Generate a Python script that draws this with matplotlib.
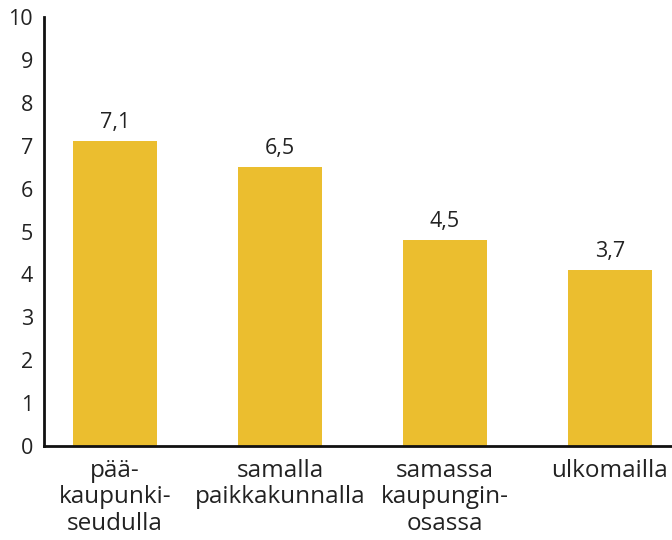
import matplotlib.pyplot as plt
import numpy as np

# data
categories = ['pää-\nkaupunki-\nseudulla', 'samalla\npaikkakunnalla',
              'samassa\nkaupungin-\nosassa', 'ulkomailla']
values = [7.1, 6.5, 4.8, 4.1]
value_labels = ['7,1', '6,5', '4,5', '3,7']

plt.rcParams['font.family'] = ['Open Sans', 'DejaVu Sans']

fig = plt.figure(figsize=(6.72, 5.4), dpi=100)
ax = fig.add_axes([0.0655, 0.174, 0.9345, 0.7945])

x = np.arange(len(categories))
bars = ax.bar(x, values, width=0.51, color='#ebbe2f')

for b, lab in zip(bars, value_labels):
    ax.text(b.get_x() + b.get_width() / 2, b.get_height() + 0.2, lab,
            ha='center', va='bottom', fontsize=15.5, color='#222222')

ax.set_xlim(-0.43, 3.376)
ax.set_ylim(0, 10)
ax.set_yticks(range(0, 11))
ax.set_xticks(x)
ax.set_xticklabels(categories, fontsize=17.5, linespacing=1.14, color='#222222')
ax.tick_params(axis='both', length=0, colors='#222222')
ax.tick_params(axis='y', pad=8, labelsize=15.5)
ax.tick_params(axis='x', pad=9)

for s in ['top', 'right']:
    ax.spines[s].set_visible(False)
for s in ['left', 'bottom']:
    ax.spines[s].set_linewidth(2)
    ax.spines[s].set_color('#111111')

plt.savefig('out.png', dpi=100)
plt.close(fig)
